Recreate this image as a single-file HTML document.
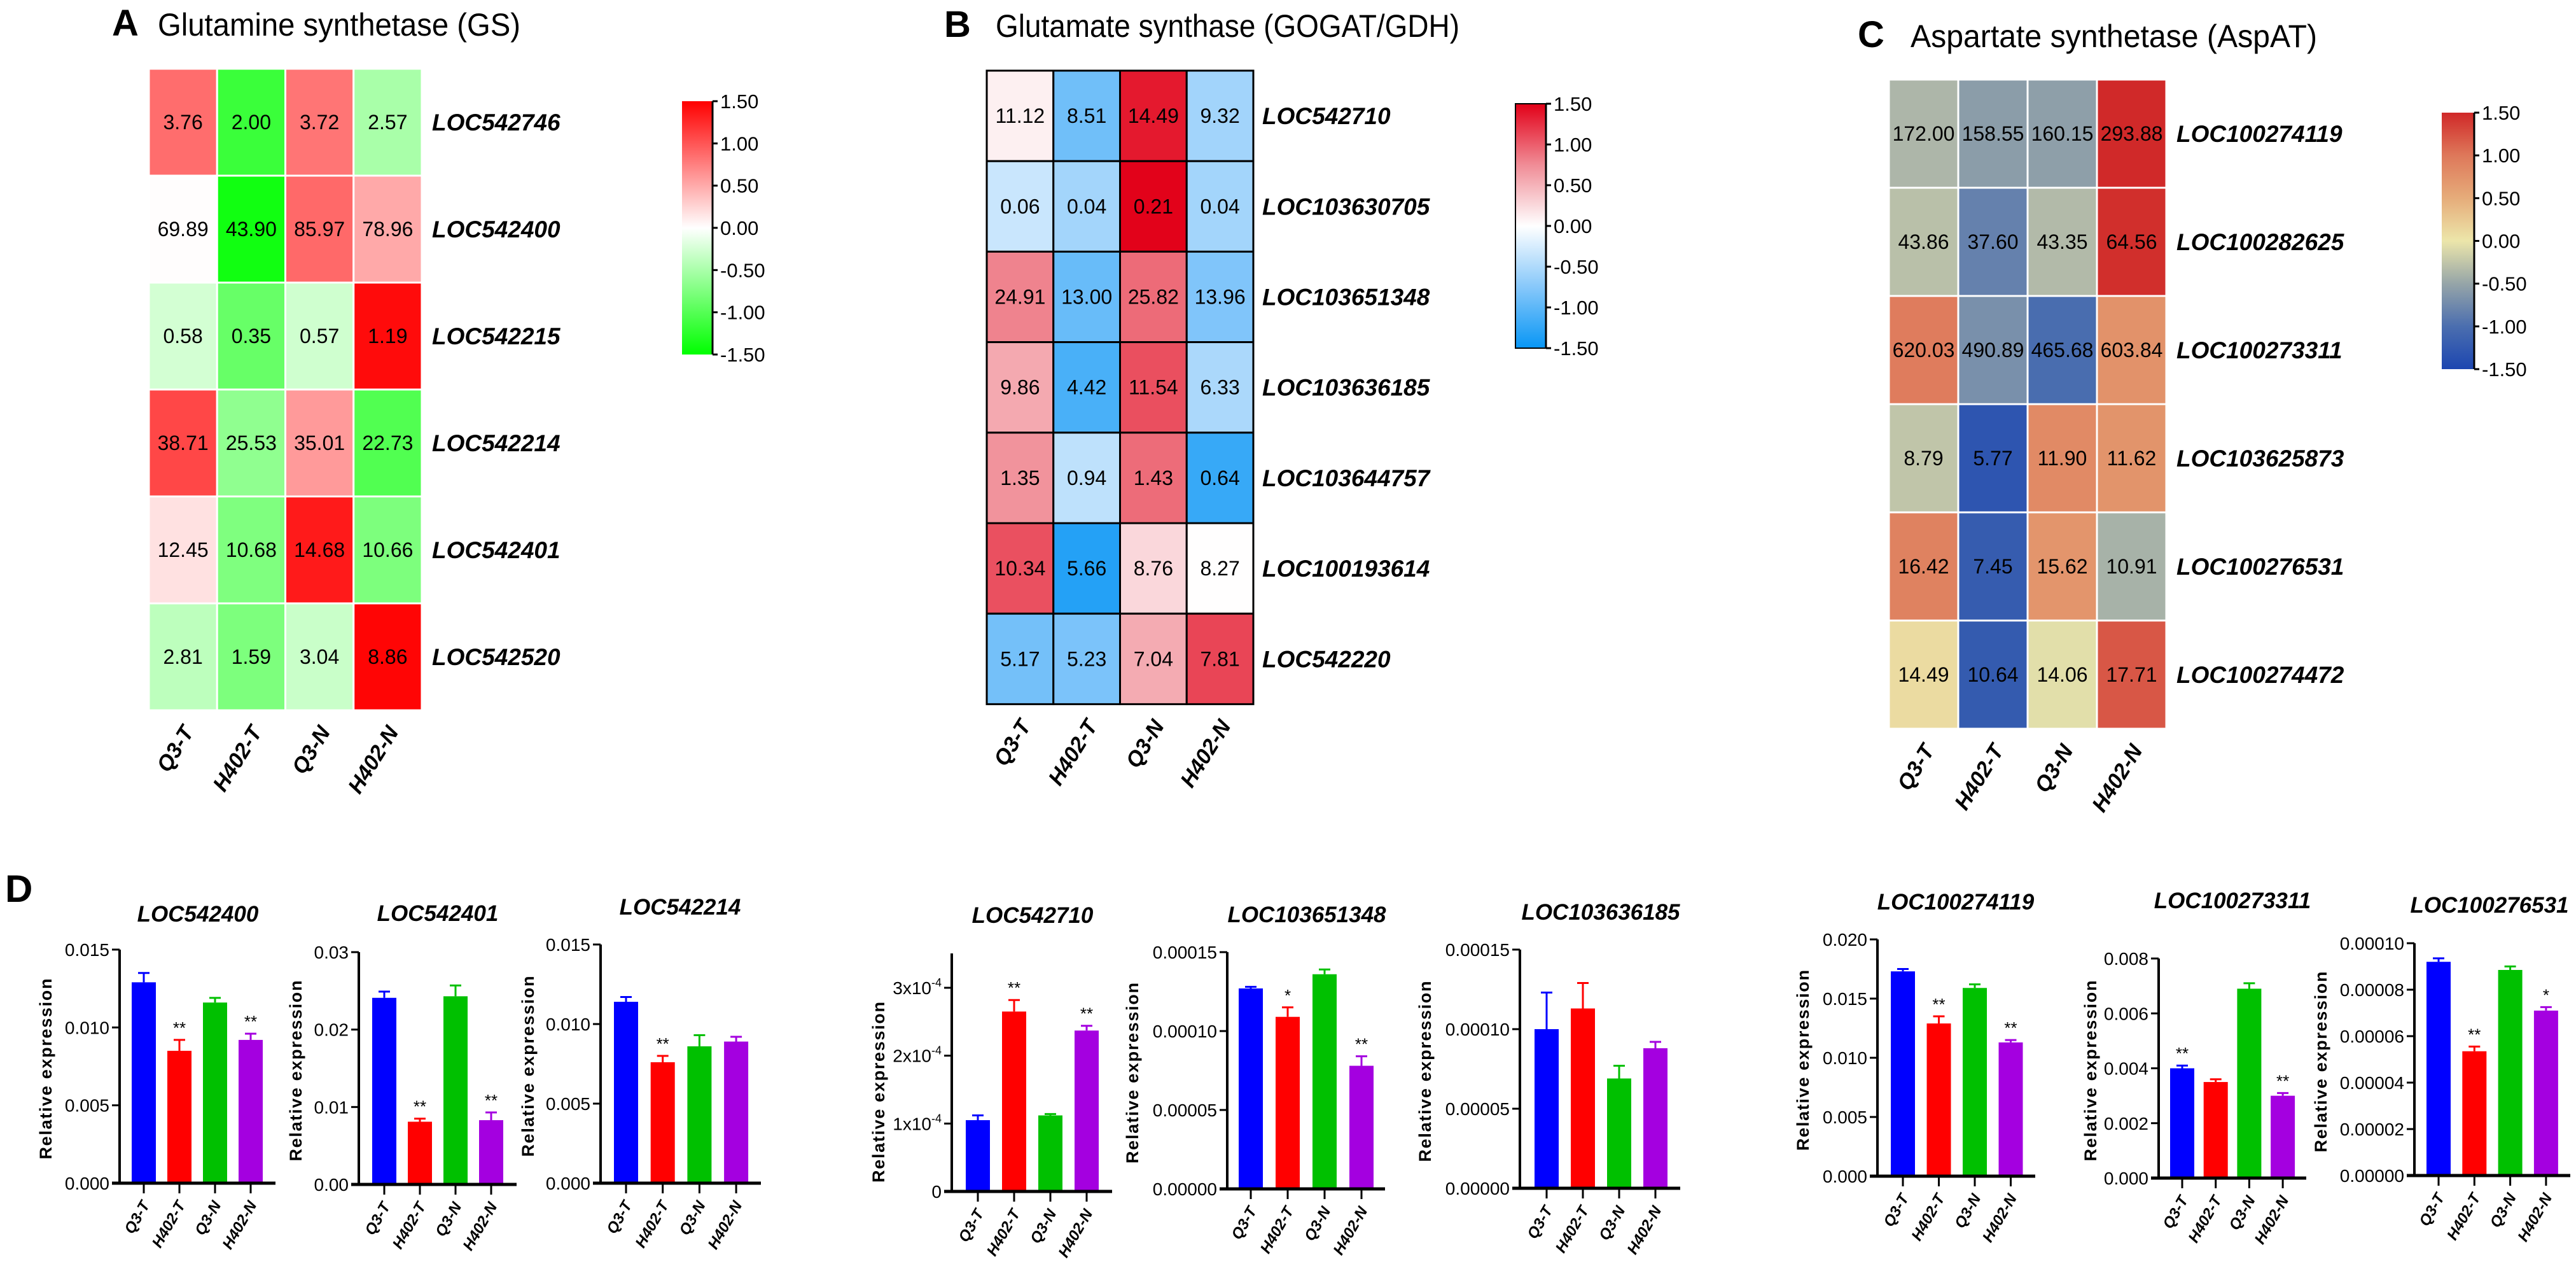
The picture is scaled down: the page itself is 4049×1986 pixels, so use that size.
<!DOCTYPE html>
<html><head><meta charset="utf-8"><title>Nitrogen metabolism gene expression</title>
<style>html,body{margin:0;padding:0;background:#fff}svg{display:block}text{font-family:"Liberation Sans",Arial,sans-serif}</style>
</head><body>
<svg id="fig" xmlns="http://www.w3.org/2000/svg" width="4049" height="1986" viewBox="0 0 4049 1986"></svg>
<script>
// ---------- Heatmap data ----------
const sampleNames = ["Q3-T","H402-T","Q3-N","H402-N"];
const genesA = ["LOC542746","LOC542400","LOC542215","LOC542214","LOC542401","LOC542520"];
const valuesA = [[3.76,2.00,3.72,2.57],[69.89,43.90,85.97,78.96],[0.58,0.35,0.57,1.19],[38.71,25.53,35.01,22.73],[12.45,10.68,14.68,10.66],[2.81,1.59,3.04,8.86]];
const genesB = ["LOC542710","LOC103630705","LOC103651348","LOC103636185","LOC103644757","LOC100193614","LOC542220"];
const valuesB = [[11.12,8.51,14.49,9.32],[0.06,0.04,0.21,0.04],[24.91,13.00,25.82,13.96],[9.86,4.42,11.54,6.33],[1.35,0.94,1.43,0.64],[10.34,5.66,8.76,8.27],[5.17,5.23,7.04,7.81]];
const genesC = ["LOC100274119","LOC100282625","LOC100273311","LOC103625873","LOC100276531","LOC100274472"];
const valuesC = [[172.00,158.55,160.15,293.88],[43.86,37.60,43.35,64.56],[620.03,490.89,465.68,603.84],[8.79,5.77,11.90,11.62],[16.42,7.45,15.62,10.91],[14.49,10.64,14.06,17.71]];
const legendTicks = [1.5,1.0,0.5,0,-0.5,-1.0,-1.5];
const legendLabels = ["1.50","1.00","0.50","0.00","-0.50","-1.00","-1.50"];

// ---------- Bar chart data ----------
const groups = ["Q3-T","H402-T","Q3-N","H402-N"];
const c1Vals=[0.0129,0.0085,0.0116,0.0092]; const c1Err=[0.0006,0.0007,0.0003,0.0004]; const c1Stars=["","**","","**"];
const c1Ticks=[0,0.005,0.010,0.015]; const c1Labels=["0.000","0.005","0.010","0.015"];
const c2Vals=[0.0241,0.0081,0.0243,0.0083]; const c2Err=[0.0008,0.0004,0.0014,0.0010]; const c2Stars=["","**","","**"];
const c2Ticks=[0,0.01,0.02,0.03]; const c2Labels=["0.00","0.01","0.02","0.03"];
const c3Vals=[0.0114,0.0076,0.0086,0.0089]; const c3Err=[0.0003,0.0004,0.0007,0.0003]; const c3Stars=["","**","",""];
const c3Ticks=[0,0.005,0.010,0.015]; const c3Labels=["0.000","0.005","0.010","0.015"];
const c4Vals=[1.05e-4,2.65e-4,1.12e-4,2.37e-4]; const c4Err=[0.07e-4,0.17e-4,0.02e-4,0.07e-4]; const c4Stars=["","**","","**"];
const c4Ticks=[0,1e-4,2e-4,3e-4]; const c4Labels=["0","1x10","2x10","3x10"];
const c5Vals=[1.27e-4,1.09e-4,1.36e-4,0.78e-4]; const c5Err=[0.01e-4,0.06e-4,0.03e-4,0.06e-4]; const c5Stars=["","*","","**"];
const c5Ticks=[0,5e-5,1e-4,1.5e-4]; const c5Labels=["0.00000","0.00005","0.00010","0.00015"];
const c6Vals=[1.00e-4,1.13e-4,0.69e-4,0.88e-4]; const c6Err=[0.23e-4,0.16e-4,0.08e-4,0.04e-4]; const c6Stars=["","","",""];
const c6Ticks=[0,5e-5,1e-4,1.5e-4]; const c6Labels=["0.00000","0.00005","0.00010","0.00015"];
const c7Vals=[0.0173,0.0129,0.0159,0.0113]; const c7Err=[0.0002,0.0006,0.0003,0.0002]; const c7Stars=["","**","","**"];
const c7Ticks=[0,0.005,0.010,0.015,0.020]; const c7Labels=["0.000","0.005","0.010","0.015","0.020"];
const c8Vals=[0.0040,0.0035,0.0069,0.0030]; const c8Err=[0.0001,0.0001,0.0002,0.0001]; const c8Stars=["**","","","**"];
const c8Ticks=[0,0.002,0.004,0.006,0.008]; const c8Labels=["0.000","0.002","0.004","0.006","0.008"];
const c9Vals=[9.2e-5,5.35e-5,8.85e-5,7.1e-5]; const c9Err=[0.15e-5,0.2e-5,0.15e-5,0.15e-5]; const c9Stars=["","**","","*"];
const c9Ticks=[0,2e-5,4e-5,6e-5,8e-5,1e-4]; const c9Labels=["0.00000","0.00002","0.00004","0.00006","0.00008","0.00010"];

const NS="http://www.w3.org/2000/svg";
const svg=document.getElementById("fig");
function mk(tag,attrs,parent,txt){const e=document.createElementNS(NS,tag);for(const k in attrs)e.setAttribute(k,attrs[k]);if(txt!==undefined)e.textContent=txt;(parent||svg).appendChild(e);return e;}

function interp(stops,v){
  if(v<=stops[0][0])return stops[0][1];
  if(v>=stops[stops.length-1][0])return stops[stops.length-1][1];
  for(let i=0;i<stops.length-1;i++){const a=stops[i],b=stops[i+1];
    if(v>=a[0]&&v<=b[0]){const t=(v-a[0])/(b[0]-a[0]);return a[1].map((c,j)=>Math.round(c+(b[1][j]-c)*t));}}
}
function rgb(c){return "rgb("+c.join(",")+")";}
function zrow(r){const m=r.reduce((a,b)=>a+b,0)/r.length;const sd=Math.sqrt(r.reduce((a,b)=>a+(b-m)*(b-m),0)/(r.length-1));return r.map(v=>sd?(v-m)/sd:0);}

const stopsA=[[-1.5,[0,255,0]],[0,[255,255,255]],[1.5,[255,0,0]]];
const stopsB=[[-1.5,[8,150,245]],[-0.75,[135,200,250]],[0,[255,255,255]],[0.75,[240,140,150]],[1.5,[226,0,24]]];
const stopsC=[[-1.5,[28,70,176]],[-1.0,[75,110,175]],[-0.5,[150,165,168]],[0,[236,230,170]],[0.5,[230,172,122]],[1.0,[222,120,90]],[1.5,[208,40,40]]];

function heatmap(p){
  const g=mk("g",{});
  
  
  mk("text",{x:p.letterX,y:p.titleY,"font-size":58,"font-weight":"bold"},g,p.letter);
  const tt=mk("text",{x:p.titleX,y:p.titleY,"font-size":50,textLength:p.titleW,lengthAdjust:"spacingAndGlyphs"},g,p.title);
  
  
  p.values.forEach((row,r)=>{
    const z=zrow(row);
    row.forEach((v,c)=>{
      const x=p.x0+c*p.cw,y=p.y0+r*p.rh;
      const rc=mk("rect",{x:x,y:y,width:p.cw,height:p.rh,fill:rgb(interp(p.stops,z[c])),stroke:p.border,"stroke-width":p.bw},g);
      
      
      mk("text",{x:x+p.cw/2,y:y+p.rh/2+11,"font-size":32,"text-anchor":"middle"},g,v.toFixed(2));
    });
    const gl=mk("text",{x:p.labelX,y:p.y0+r*p.rh+p.rh/2+13,"font-size":37,"font-weight":"bold","font-style":"italic"},g,p.genes[r]);
    
    
  });
  const bottom=p.y0+p.values.length*p.rh;
  sampleNames.forEach((s,c)=>{
    const cx=p.x0+c*p.cw+p.cw/2+18, cy=bottom+34;
    const t=mk("text",{x:cx,y:cy,"font-size":34,"font-weight":"bold","font-style":"italic","text-anchor":"end",transform:"rotate(-58 "+cx+" "+cy+")"},g,s);
    
    
  });
  const id="grad"+p.letter;
  const defs=mk("defs",{},g);
  const lg=mk("linearGradient",{id:id,x1:0,y1:1,x2:0,y2:0},defs);
  p.stops.forEach(s=>mk("stop",{offset:((s[0]+1.5)/3*100)+"%","stop-color":rgb(s[1])},lg));
  const cb=mk("rect",{x:p.cbX,y:p.cbY0,width:p.cbW,height:p.cbY1-p.cbY0,fill:"url(#"+id+")",stroke:p.cbBorder?"#000":"none","stroke-width":2},g);
  
  
  const ax=p.cbX+p.cbW;
  mk("line",{x1:ax,y1:p.cbY0,x2:ax,y2:p.cbY1,stroke:"#000","stroke-width":3},g);
  legendTicks.forEach((t,i)=>{
    const y=p.cbY1-(t+1.5)/3*(p.cbY1-p.cbY0);
    mk("line",{x1:ax,y1:y,x2:ax+8,y2:y,stroke:"#000","stroke-width":3},g);
    mk("text",{x:ax+12,y:y+11,"font-size":31},g,legendLabels[i]);
  });
}

heatmap({name:"heatmap-gs",letter:"A",title:"Glutamine synthetase (GS)",letterX:176,titleX:248,titleW:570,titleY:56,values:valuesA,genes:genesA,stops:stopsA,
  x0:234,y0:108,cw:107.25,rh:168,border:"#fff",bw:3,labelX:679,cbX:1072,cbW:48,cbY0:159,cbY1:557,cbBorder:false});
heatmap({name:"heatmap-gogat",letter:"B",title:"Glutamate synthase (GOGAT/GDH)",letterX:1484,titleX:1565,titleW:729,titleY:58,values:valuesB,genes:genesB,stops:stopsB,
  x0:1551,y0:111,cw:104.75,rh:142.2,border:"#000",bw:3,labelX:1984,cbX:2382,cbW:48,cbY0:163,cbY1:547,cbBorder:true});
heatmap({name:"heatmap-aspat",letter:"C",title:"Aspartate synthetase (AspAT)",letterX:2920,titleX:3003,titleW:639,titleY:74,values:valuesC,genes:genesC,stops:stopsC,
  x0:2969,y0:125,cw:109,rh:170,border:"#fff",bw:3,labelX:3421,cbX:3838,cbW:51,cbY0:177,cbY1:580,cbBorder:false});

const dl=mk("text",{x:8,y:1417,"font-size":60,"font-weight":"bold"},svg,"D");



const barColors=["#0000ff","#ff0000","#00c000","#a400e0"];
function barChart(p){
  const g=mk("g",{});
  
  
  const maxT=p.ticks[p.ticks.length-1];
  const y=v=>p.zero-(v/maxT)*(p.zero-p.top);
  const x=i=>p.ax+p.off+i*p.step;
  const bw=38;
  mk("text",{x:p.titleX,y:p.titleY+12,"font-size":35,"font-weight":"bold","font-style":"italic","text-anchor":"middle"},g,p.title);
  const yl=mk("text",{x:0,y:0,"font-size":27,"font-weight":"bold","text-anchor":"middle",textLength:284,lengthAdjust:"spacing",transform:"translate("+(p.ylX+10)+","+((p.top+p.zero)/2+4)+") rotate(-90)"},g,"Relative expression");
  
  
  p.vals.forEach((v,i)=>{
    const cx=x(i);
    const b=mk("rect",{x:cx-bw/2,y:y(v),width:bw,height:p.zero-y(v),fill:barColors[i]},g);
    
    
    const et=y(v+p.err[i]);
    mk("line",{x1:cx,y1:y(v),x2:cx,y2:et,stroke:barColors[i],"stroke-width":3},g);
    mk("line",{x1:cx-9,y1:et,x2:cx+9,y2:et,stroke:barColors[i],"stroke-width":3},g);
    if(p.stars[i]) mk("text",{x:cx,y:et-10,"font-size":26,"text-anchor":"middle"},g,p.stars[i]);
    mk("line",{x1:cx,y1:p.zero,x2:cx,y2:p.zero+16,stroke:"#000","stroke-width":3},g);
    const lx=cx+10, ly=p.zero+34;
    const t=mk("text",{x:lx,y:ly,"font-size":24,"font-weight":"bold","font-style":"italic","text-anchor":"end",transform:"rotate(-60 "+lx+" "+ly+")"},g,groups[i]);
    
    
  });
  const ya=mk("line",{x1:p.ax,y1:p.axTop||p.top,x2:p.ax,y2:p.zero+2,stroke:"#000","stroke-width":4},g);
  
  
  const xa=mk("line",{x1:p.ax-12,y1:p.zero,x2:p.xEnd,y2:p.zero,stroke:"#000","stroke-width":5},g);
  
  
  p.ticks.forEach((t,i)=>{
    const ty=y(t);
    mk("line",{x1:p.ax-12,y1:ty,x2:p.ax,y2:ty,stroke:"#000","stroke-width":3},g);
    const tl=mk("text",{x:p.ax-16,y:ty+10,"font-size":28,"text-anchor":"end"},g,p.labels[i]);
    if(p.sup && t!==0) mk("tspan",{dy:-12,"font-size":18},tl,"-4");
  });
}

barChart({name:"bar-chart-loc542400",title:"LOC542400",titleX:311,titleY:1436,ylX:71,ax:188,xEnd:433,off:38,step:56,top:1492,zero:1859,vals:c1Vals,err:c1Err,stars:c1Stars,ticks:c1Ticks,labels:c1Labels});
barChart({name:"bar-chart-loc542401",title:"LOC542401",titleX:688,titleY:1435,ylX:464,ax:564,xEnd:812,off:40,step:56,top:1496,zero:1861,vals:c2Vals,err:c2Err,stars:c2Stars,ticks:c2Ticks,labels:c2Labels});
barChart({name:"bar-chart-loc542214",title:"LOC542214",titleX:1069,titleY:1425,ylX:829,ax:944,xEnd:1196,off:40,step:57.7,top:1484,zero:1859,vals:c3Vals,err:c3Err,stars:c3Stars,ticks:c3Ticks,labels:c3Labels});
barChart({name:"bar-chart-loc542710",title:"LOC542710",titleX:1623,titleY:1438,ylX:1380,ax:1496,xEnd:1748,off:41,step:57,top:1552,axTop:1498,zero:1872,vals:c4Vals,err:c4Err,stars:c4Stars,ticks:c4Ticks,labels:c4Labels,sup:true});
barChart({name:"bar-chart-loc103651348",title:"LOC103651348",titleX:2054,titleY:1437,ylX:1779,ax:1929,xEnd:2177,off:37,step:58,top:1496,zero:1868,vals:c5Vals,err:c5Err,stars:c5Stars,ticks:c5Ticks,labels:c5Labels});
barChart({name:"bar-chart-loc103636185",title:"LOC103636185",titleX:2516,titleY:1433,ylX:2239,ax:2389,xEnd:2641,off:42,step:57,top:1492,zero:1867,vals:c6Vals,err:c6Err,stars:c6Stars,ticks:c6Ticks,labels:c6Labels});
barChart({name:"bar-chart-loc100274119",title:"LOC100274119",titleX:3074,titleY:1417,ylX:2833,ax:2951,xEnd:3199,off:40,step:56.5,top:1476,zero:1848,vals:c7Vals,err:c7Err,stars:c7Stars,ticks:c7Ticks,labels:c7Labels});
barChart({name:"bar-chart-loc100273311",title:"LOC100273311",titleX:3509,titleY:1415,ylX:3285,ax:3393,xEnd:3625,off:37,step:52.7,top:1506,zero:1851,vals:c8Vals,err:c8Err,stars:c8Stars,ticks:c8Ticks,labels:c8Labels});
barChart({name:"bar-chart-loc100276531",title:"LOC100276531",titleX:3913,titleY:1422,ylX:3647,ax:3795,xEnd:4040,off:38,step:56.3,top:1482,zero:1847,vals:c9Vals,err:c9Err,stars:c9Stars,ticks:c9Ticks,labels:c9Labels});
</script>
</body></html>
